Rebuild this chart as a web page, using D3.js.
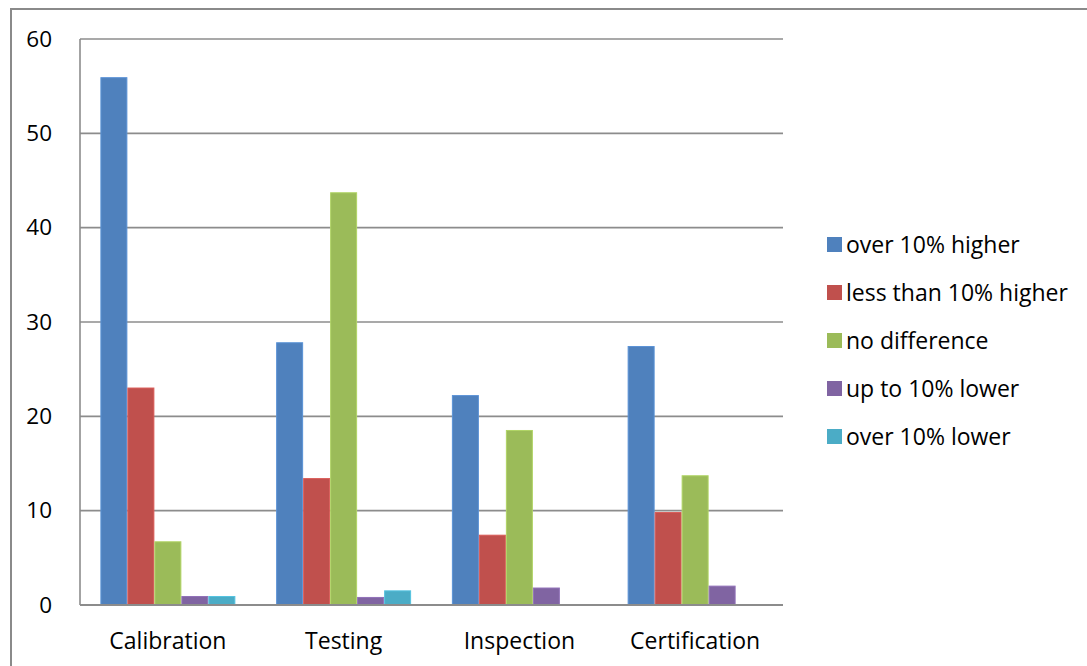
<!DOCTYPE html>
<html>
<head>
<meta charset="utf-8">
<script src="https://cdn.jsdelivr.net/npm/d3@7"></script>
<style>
  html, body { margin: 0; padding: 0; background: #fff; }
  svg { display: block; }
  text { font-family: "Open Sans", "Noto Sans", sans-serif; fill: #000; }
</style>
</head>
<body>
<svg id="chart" width="1087" height="666"></svg>
<script>
const categories = ["Calibration", "Testing", "Inspection", "Certification"];
const seriesNames = ["over 10% higher", "less than 10% higher", "no difference", "up to 10% lower", "over 10% lower"];
const seriesColors = ["#4F81BD", "#C0504D", "#9BBB59", "#8064A2", "#4BACC6"];
const overHigher = [55.9, 27.8, 22.2, 27.4];
const lessHigher = [23.0, 13.4, 7.4, 9.8];
const noDifference = [6.7, 43.7, 18.5, 13.7];
const upToLower = [0.9, 0.8, 1.8, 2.0];
const overLower = [0.9, 1.5, 0, 0];
const yTicks = [0, 10, 20, 30, 40, 50, 60];

const seriesValues = [overHigher, lessHigher, noDifference, upToLower, overLower];

const svg = d3.select("#chart");
const W = 1087, H = 666;
const plot = { left: 80, top: 39, right: 783, bottom: 605 };

// outer chart border
svg.append("rect")
  .attr("x", 11).attr("y", 9)
  .attr("width", W + 20).attr("height", H + 20)
  .attr("fill", "none").attr("stroke", "#8a8a8a").attr("stroke-width", 2);

const x0 = d3.scaleBand().domain(categories)
  .range([plot.left, plot.right])
  .paddingInner(0.232).paddingOuter(0.116);
const x1 = d3.scaleBand().domain(seriesNames)
  .range([0, x0.bandwidth()]).padding(0);
const y = d3.scaleLinear().domain([0, 60]).range([plot.bottom, plot.top]);

// gridlines
svg.append("g").selectAll("line").data(yTicks.filter(t => t > 0)).join("line")
  .attr("x1", plot.left).attr("x2", plot.right)
  .attr("y1", d => y(d)).attr("y2", d => y(d))
  .attr("stroke", "#8c8c8c").attr("stroke-width", 1.6);

// y axis labels
const yAxis = d3.axisLeft(y).tickValues(yTicks).tickSize(0).tickPadding(28).tickFormat(d3.format("d"));
const gy = svg.append("g").attr("transform", `translate(${plot.left},0)`).call(yAxis);
gy.select(".domain").remove();
gy.selectAll("text").attr("font-size", 22.5).attr("font-family", "\"Open Sans\", sans-serif").attr("fill", "#000");

// bars
const data = [];
categories.forEach((c, ci) => {
  seriesNames.forEach((s, si) => {
    data.push({ cat: c, ser: s, v: seriesValues[si][ci], color: seriesColors[si] });
  });
});
svg.append("g").selectAll("rect").data(data.filter(d => d.v > 0)).join("rect")
  .attr("x", d => x0(d.cat) + x1(d.ser) + 0.5)
  .attr("y", d => y(d.v))
  .attr("width", x1.bandwidth() - 1)
  .attr("height", d => y(0) - y(d.v))
  .attr("fill", d => d.color)
  .attr("stroke", d => d3.color(d.color).brighter(0.35))
  .attr("stroke-width", 1);

// axes lines
svg.append("line").attr("x1", plot.left).attr("x2", plot.left)
  .attr("y1", plot.top).attr("y2", plot.bottom)
  .attr("stroke", "#8c8c8c").attr("stroke-width", 1.6);
svg.append("line").attr("x1", plot.left).attr("x2", plot.right)
  .attr("y1", plot.bottom).attr("y2", plot.bottom)
  .attr("stroke", "#8c8c8c").attr("stroke-width", 2);

// x axis labels
const xAxis = d3.axisBottom(x0).tickSize(0).tickPadding(28);
const gx = svg.append("g").attr("transform", `translate(0,${plot.bottom})`).call(xAxis);
gx.select(".domain").remove();
gx.selectAll("text").attr("font-size", 23).attr("font-family", "\"Open Sans\", sans-serif").attr("fill", "#000");

// legend
const legend = svg.append("g").attr("transform", "translate(827,237)");
const items = legend.selectAll("g").data(seriesNames).join("g")
  .attr("transform", (d, i) => `translate(0,${i * 48})`);
items.append("rect").attr("width", 15).attr("height", 15)
  .attr("fill", (d, i) => seriesColors[i]);
items.append("text").attr("x", 19).attr("y", 7.5).attr("dy", "0.36em")
  .attr("font-size", 23).text(d => d);
</script>
</body>
</html>
